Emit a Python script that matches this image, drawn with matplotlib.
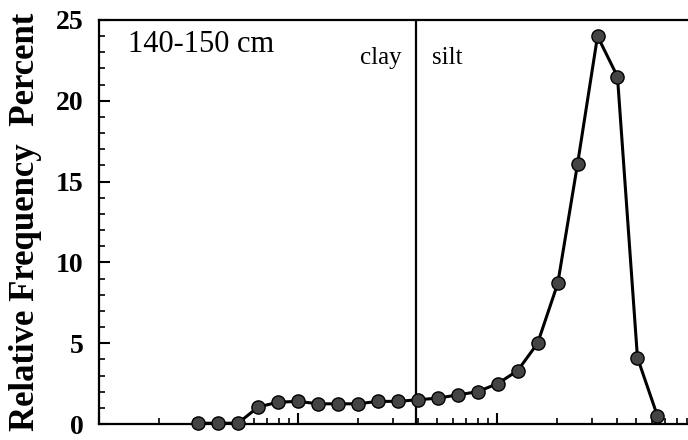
import matplotlib
matplotlib.use("Agg")
import matplotlib.pyplot as plt
from matplotlib.ticker import LogLocator, NullFormatter, MultipleLocator

# grain size (microns) and relative frequency (%)
grain_size = [0.315, 0.397, 0.5, 0.63, 0.794, 1.0, 1.26, 1.587, 2.0, 2.52,
              3.17, 4.0, 5.04, 6.35, 8.0, 10.08, 12.7, 16.0, 20.2, 25.4,
              32.0, 40.3, 50.8, 64.0]
frequency = [0.05, 0.05, 0.05, 1.05, 1.35, 1.4, 1.25, 1.25, 1.25, 1.4,
             1.4, 1.5, 1.6, 1.8, 2.0, 2.5, 3.3, 5.0, 8.7, 16.1,
             24.0, 21.5, 4.1, 0.5]
clay_silt = 3.9
depth_label = "140-150 cm"

plt.rcParams['font.family'] = ['Liberation Serif', 'DejaVu Serif']

fig = plt.figure(figsize=(6.88, 4.4), dpi=100)
ax = fig.add_axes([99 / 688, 16 / 440, 597 / 688, 404 / 440])

ax.axvline(clay_silt, color='black', lw=1.6)
ax.plot(grain_size, frequency, color='black', lw=2.2, marker='o',
        markersize=9.5, markerfacecolor='#444444', markeredgecolor='black',
        markeredgewidth=1.0, clip_on=False, zorder=3)

ax.set_xscale('log')
ax.set_xlim(0.1, 100)
ax.set_ylim(0, 25)

ax.xaxis.set_major_locator(LogLocator(base=10))
ax.xaxis.set_minor_locator(LogLocator(base=10, subs=range(2, 10)))
ax.xaxis.set_major_formatter(NullFormatter())
ax.xaxis.set_minor_formatter(NullFormatter())
ax.yaxis.set_major_locator(MultipleLocator(5))
ax.yaxis.set_minor_locator(MultipleLocator(1))

ax.tick_params(axis='both', which='major', direction='in', length=8, width=1.5)
ax.tick_params(axis='both', which='minor', direction='in', length=4, width=1.2)
ax.tick_params(axis='y', which='major', labelsize=20, pad=11)
ax.tick_params(top=False, right=False, which='both')
for lbl in ax.get_yticklabels():
    lbl.set_fontweight('bold')

for side in ['left', 'bottom', 'top']:
    ax.spines[side].set_linewidth(1.6)
ax.spines['right'].set_visible(False)

ax.set_ylabel("Relative Frequency  Percent", fontsize=25, fontweight='bold')
ax.yaxis.set_label_coords(-0.095, 0.5)

ax.text(0.048, 0.939, depth_label, transform=ax.transAxes, fontsize=22,
        ha='left', va='center')
ax.text(0.5075, 0.905, "clay", transform=ax.transAxes, fontsize=18,
        ha='right', va='center')
ax.text(0.558, 0.905, "silt", transform=ax.transAxes, fontsize=18,
        ha='left', va='center')

fig.savefig("out.png", dpi=100)
